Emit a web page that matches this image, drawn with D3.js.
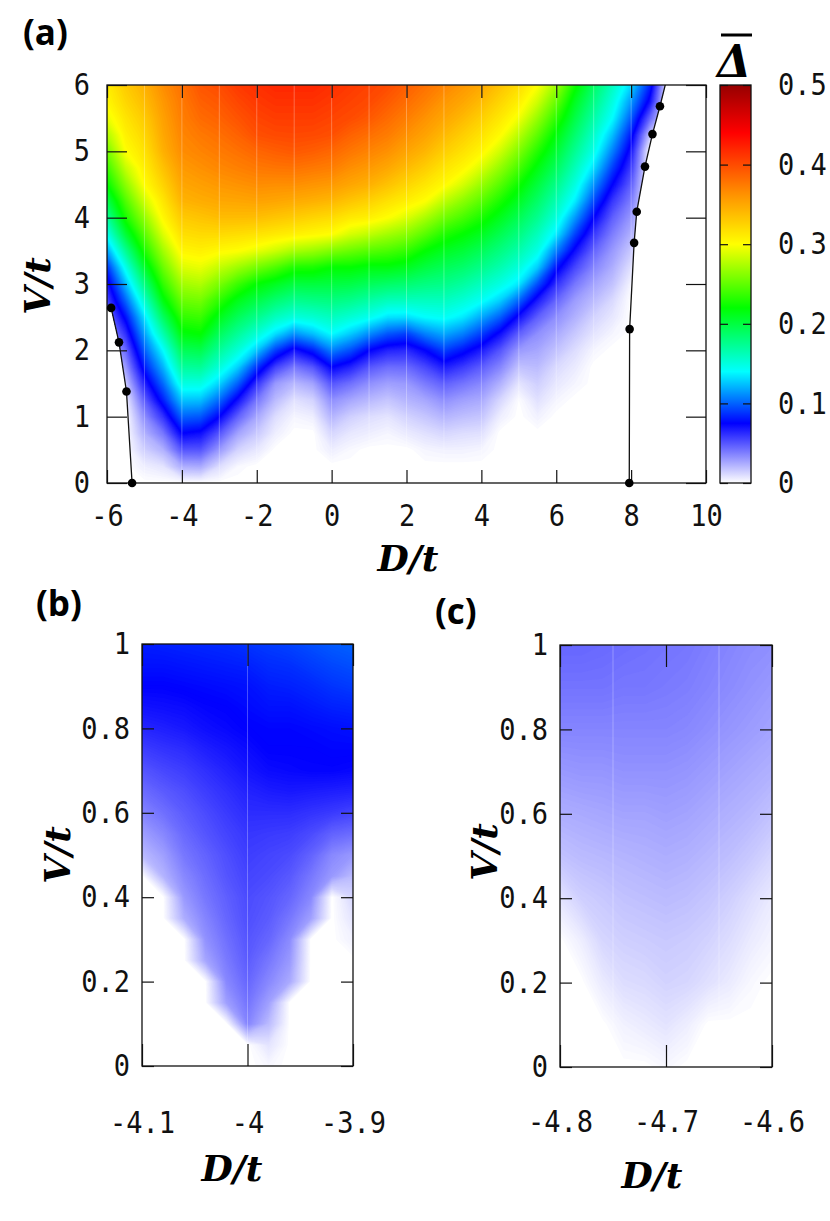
<!DOCTYPE html>
<html><head><meta charset="utf-8">
<script src="https://cdn.jsdelivr.net/npm/d3@7"></script>
<style>body{margin:0;background:#fff} svg{display:block}</style>
</head><body>
<svg id="fig" width="830" height="1221"></svg>
<script>
// ---------------- DATA ----------------
// Panel (a): grid of D/t (columns) and V/t (rows), mean gap values
const aD = [-6,-5.5,-5,-4.5,-4,-3.5,-3,-2.5,-2,-1.5,-1,-0.5,0,0.5,1,1.5,2,2.5,3,3.5,4,4.5,5,5.5,6,6.5,7,7.5,8,8.5,9,9.5,10];
const aV = [0,0.25,0.5,0.75,1,1.25,1.5,1.75,2,2.25,2.5,2.75,3,3.25,3.5,3.75,4,4.25,4.5,4.75,5,5.25,5.5,5.75,6];
// each inner array: one D column, values for V = 0 ... 6
const aDelta = [
 [0,0,0,0,0,0,0,0.005,0.015,0.027,0.04,0.053,0.067,0.087,0.116,0.145,0.17,0.195,0.22,0.238,0.256,0.275,0.293,0.304,0.31],
 [0,0,0,0,0,0.005,0.016,0.03,0.044,0.061,0.079,0.101,0.123,0.146,0.174,0.203,0.227,0.245,0.264,0.282,0.3,0.308,0.315,0.323,0.33],
 [0,0.005,0.014,0.023,0.033,0.047,0.064,0.082,0.099,0.116,0.133,0.155,0.18,0.205,0.228,0.247,0.266,0.285,0.301,0.309,0.316,0.323,0.33,0.338,0.345],
 [0,0.008,0.023,0.04,0.06,0.083,0.102,0.121,0.14,0.165,0.19,0.215,0.235,0.253,0.271,0.289,0.304,0.314,0.325,0.335,0.345,0.35,0.354,0.359,0.365],
 [0,0.024,0.05,0.075,0.1,0.125,0.149,0.171,0.193,0.216,0.235,0.253,0.271,0.289,0.305,0.318,0.33,0.343,0.351,0.358,0.365,0.369,0.373,0.376,0.38],
 [0,0.025,0.05,0.071,0.097,0.124,0.149,0.173,0.196,0.22,0.238,0.256,0.275,0.293,0.308,0.321,0.334,0.347,0.355,0.363,0.37,0.376,0.383,0.389,0.395],
 [0,0.01,0.03,0.05,0.075,0.102,0.129,0.152,0.172,0.192,0.212,0.234,0.258,0.281,0.303,0.321,0.338,0.35,0.359,0.368,0.375,0.381,0.388,0.394,0.4],
 [0,0.002,0.013,0.027,0.046,0.07,0.099,0.128,0.152,0.172,0.192,0.212,0.238,0.269,0.3,0.319,0.338,0.351,0.362,0.372,0.38,0.388,0.396,0.403,0.41],
 [0,0,0.007,0.016,0.026,0.04,0.06,0.089,0.126,0.153,0.176,0.198,0.22,0.256,0.293,0.316,0.337,0.353,0.365,0.376,0.386,0.398,0.404,0.41,0.415],
 [0,0,0,0.005,0.01,0.02,0.03,0.056,0.091,0.132,0.16,0.185,0.21,0.244,0.284,0.312,0.333,0.351,0.364,0.378,0.39,0.401,0.408,0.414,0.42],
 [0,0,0,0,0.003,0.009,0.021,0.04,0.069,0.112,0.15,0.175,0.2,0.229,0.273,0.308,0.329,0.348,0.364,0.379,0.393,0.402,0.408,0.414,0.42],
 [0,0,0,0,0.005,0.013,0.027,0.05,0.083,0.124,0.154,0.178,0.201,0.228,0.268,0.304,0.324,0.345,0.361,0.376,0.39,0.401,0.408,0.414,0.42],
 [0,0,0.005,0.012,0.022,0.033,0.05,0.075,0.108,0.14,0.16,0.18,0.2,0.22,0.26,0.3,0.32,0.341,0.358,0.373,0.385,0.398,0.404,0.41,0.415],
 [0,0,0.002,0.007,0.014,0.026,0.042,0.065,0.095,0.127,0.153,0.176,0.198,0.22,0.253,0.287,0.312,0.333,0.351,0.364,0.377,0.388,0.4,0.405,0.41],
 [0,0,0,0.005,0.01,0.021,0.033,0.05,0.075,0.111,0.145,0.168,0.192,0.215,0.247,0.28,0.308,0.326,0.345,0.358,0.37,0.381,0.393,0.401,0.405],
 [0,0,0,0.003,0.008,0.017,0.028,0.043,0.065,0.097,0.133,0.161,0.188,0.215,0.243,0.271,0.3,0.317,0.335,0.35,0.363,0.374,0.383,0.392,0.4],
 [0,0,0,0.006,0.013,0.022,0.03,0.044,0.063,0.091,0.132,0.16,0.185,0.21,0.236,0.263,0.289,0.309,0.324,0.339,0.352,0.363,0.373,0.382,0.39],
 [0,0,0.003,0.009,0.017,0.026,0.039,0.054,0.075,0.108,0.14,0.16,0.18,0.2,0.22,0.247,0.273,0.3,0.314,0.328,0.342,0.353,0.362,0.372,0.38],
 [0,0,0.004,0.012,0.022,0.033,0.047,0.067,0.091,0.118,0.143,0.16,0.177,0.193,0.21,0.23,0.255,0.28,0.303,0.315,0.328,0.34,0.351,0.36,0.37],
 [0,0,0.004,0.01,0.019,0.028,0.041,0.058,0.08,0.108,0.135,0.153,0.17,0.187,0.203,0.22,0.242,0.264,0.287,0.305,0.317,0.328,0.34,0.351,0.36],
 [0,0,0.003,0.009,0.017,0.025,0.035,0.048,0.067,0.091,0.118,0.143,0.16,0.177,0.193,0.21,0.228,0.248,0.268,0.288,0.305,0.316,0.327,0.339,0.35],
 [0,0,0,0,0.005,0.012,0.023,0.036,0.05,0.071,0.099,0.128,0.149,0.165,0.18,0.195,0.211,0.228,0.247,0.266,0.285,0.302,0.313,0.324,0.335],
 [0,0,0,0,0,0.001,0.008,0.018,0.03,0.047,0.07,0.101,0.134,0.151,0.166,0.18,0.194,0.209,0.224,0.242,0.26,0.278,0.296,0.309,0.32],
 [0,0,0,0,0.004,0.009,0.014,0.02,0.026,0.033,0.047,0.067,0.095,0.127,0.148,0.161,0.175,0.188,0.201,0.215,0.231,0.249,0.267,0.285,0.3],
 [0,0,0,0,0,0.003,0.007,0.011,0.018,0.025,0.033,0.045,0.061,0.08,0.108,0.135,0.151,0.164,0.177,0.191,0.204,0.217,0.234,0.252,0.27],
 [0,0,0,0,0,0,0.003,0.006,0.01,0.016,0.023,0.029,0.04,0.054,0.071,0.092,0.114,0.136,0.15,0.162,0.174,0.186,0.198,0.21,0.225],
 [0,0,0,0,0,0,0,0,0.003,0.008,0.013,0.02,0.027,0.036,0.046,0.059,0.075,0.094,0.113,0.132,0.147,0.157,0.168,0.179,0.19],
 [0,0,0,0,0,0,0,0,0,0.003,0.007,0.011,0.018,0.024,0.03,0.038,0.047,0.059,0.075,0.091,0.108,0.124,0.14,0.15,0.16],
 [0,0,0,0,0,0,0,0,0,0,0,0,0.003,0.009,0.016,0.023,0.03,0.038,0.047,0.057,0.068,0.081,0.098,0.114,0.13],
 [0,0,0,0,0,0,0,0,0,0,0,0,0,0,0,0,0,0,0,0,0,0.018,0.045,0.07,0.085],
 [0,0,0,0,0,0,0,0,0,0,0,0,0,0,0,0,0,0,0,0,0,0,0,0,0],
 [0,0,0,0,0,0,0,0,0,0,0,0,0,0,0,0,0,0,0,0,0,0,0,0,0],
 [0,0,0,0,0,0,0,0,0,0,0,0,0,0,0,0,0,0,0,0,0,0,0,0,0]
];
// phase boundaries (D/t, V/t)
const aLeftBoundary  = [[-5.33,0],[-5.48,1.38],[-5.68,2.12],[-5.89,2.64]];
const aRightBoundary = [[7.95,0],[7.96,2.32],[8.08,3.62],[8.15,4.09],[8.37,4.77],[8.57,5.26],[8.77,5.68],[9.0,6.2]];
const aXTicks = [-6,-4,-2,0,2,4,6,8,10];
const aXTickLabels = ["-6","-4","-2","0","2","4","6","8","10"];
const aYTicks = [0,1,2,3,4,5,6];
const aYTickLabels = ["0","1","2","3","4","5","6"];
const aSeams = [-5,-4,-3,-2,-1,0,1,2,3,4,5,6,7,8,9];

// Panel (b)
const bD = [-4.1,-4.08,-4.06,-4.04,-4.02,-4.0,-3.98,-3.96,-3.94,-3.92,-3.9];
const bV = [0,0.05,0.1,0.15,0.2,0.25,0.3,0.35,0.4,0.45,0.5,0.55,0.6,0.65,0.7,0.75,0.8,0.85,0.9,0.95,1.0];
const bDelta = [
 [0,0,0,0,0,0,0,0,0,0,0.02,0.028,0.036,0.043,0.05,0.057,0.064,0.07,0.075,0.079,0.082],
 [0,0,0,0,0,0,0,0,0,0.022,0.028,0.035,0.042,0.048,0.054,0.06,0.066,0.071,0.075,0.079,0.083],
 [0,0,0,0,0,0,0,0.024,0.03,0.035,0.04,0.044,0.048,0.052,0.057,0.062,0.068,0.072,0.076,0.08,0.084],
 [0,0,0,0,0,0.026,0.032,0.036,0.04,0.043,0.046,0.05,0.053,0.057,0.061,0.066,0.071,0.074,0.077,0.081,0.085],
 [0,0,0,0.028,0.035,0.039,0.042,0.045,0.047,0.05,0.052,0.055,0.058,0.061,0.065,0.069,0.073,0.075,0.078,0.082,0.086],
 [0,0,0.036,0.041,0.045,0.048,0.05,0.052,0.053,0.055,0.057,0.059,0.062,0.065,0.069,0.072,0.075,0.077,0.079,0.083,0.088],
 [0.002,0.008,0.02,0.028,0.035,0.04,0.045,0.048,0.05,0.053,0.055,0.058,0.062,0.067,0.072,0.075,0.076,0.079,0.082,0.086,0.09],
 [0,0,0,0,0.025,0.03,0.034,0.04,0.045,0.049,0.053,0.057,0.062,0.068,0.073,0.075,0.076,0.079,0.083,0.087,0.092],
 [0,0,0,0,0,0,0,0.028,0.035,0.04,0.046,0.053,0.06,0.067,0.074,0.075,0.077,0.081,0.085,0.09,0.095],
 [0,0,0,0,0,0,0,0,0,0.03,0.035,0.046,0.058,0.066,0.074,0.076,0.078,0.083,0.088,0.093,0.098],
 [0,0,0,0,0,0,0.004,0.008,0.012,0.02,0.03,0.043,0.055,0.065,0.073,0.076,0.079,0.084,0.09,0.095,0.1]
];
const bXTicks = [-4.1,-4.0,-3.9];
const bXTickLabels = ["-4.1","-4","-3.9"];
const bYTicks = [0,0.2,0.4,0.6,0.8,1];
const bYTickLabels = ["0","0.2","0.4","0.6","0.8","1"];
const bSeams = [-4.0];

// Panel (c)
const cD = [-4.8,-4.78,-4.76,-4.74,-4.72,-4.7,-4.68,-4.66,-4.64,-4.62,-4.6];
const cV = [0,0.1,0.2,0.3,0.4,0.5,0.6,0.7,0.8,0.9,1.0];
const cDelta = [
 [0,0,0,0,0.008,0.018,0.024,0.03,0.036,0.041,0.045],
 [0,0,0,0.005,0.014,0.02,0.025,0.031,0.036,0.041,0.045],
 [0,0,0.006,0.012,0.016,0.021,0.026,0.031,0.036,0.041,0.044],
 [0,0.004,0.01,0.014,0.018,0.022,0.027,0.032,0.036,0.04,0.043],
 [0,0.006,0.011,0.015,0.019,0.023,0.027,0.032,0.036,0.04,0.042],
 [0.002,0.008,0.013,0.016,0.02,0.024,0.028,0.032,0.036,0.039,0.041],
 [0,0.005,0.012,0.015,0.019,0.023,0.027,0.031,0.035,0.038,0.04],
 [0,0,0.009,0.013,0.017,0.021,0.025,0.029,0.033,0.036,0.038],
 [0,0,0.006,0.01,0.014,0.019,0.023,0.027,0.031,0.034,0.036],
 [0,0,0.002,0.006,0.01,0.016,0.021,0.025,0.029,0.032,0.034],
 [0,0,0,0.003,0.006,0.012,0.018,0.023,0.027,0.03,0.033]
];
const cXTicks = [-4.8,-4.7,-4.6];
const cXTickLabels = ["-4.8","-4.7","-4.6"];
const cYTicks = [0,0.2,0.4,0.6,0.8,1];
const cYTickLabels = ["0","0.2","0.4","0.6","0.8","1"];
const cSeams = [-4.75,-4.65];

// colour bar
const cbStops  = [0,0.075,0.14,0.22,0.30,0.36,0.44,0.5];
const cbColors = ["#ffffff","#0000ff","#00ffff","#00ff00","#ffff00","#ff9600","#ff0000","#960000"];
const cbTicks = [0,0.1,0.2,0.3,0.4,0.5];
const cbTickLabels = ["0","0.1","0.2","0.3","0.4","0.5"];

// ---------------- DRAWING ----------------
const svg = d3.select("#fig");
const defs = svg.append("defs");
const color = d3.scaleLinear().domain(cbStops).range(cbColors).clamp(true);
const MONO = "DejaVu Sans Mono";
const SERIF = "DejaVu Serif";
const SX = 0.9; // horizontal squeeze of the monospace tick labels

function addClipRect(id, x0, y0, x1, y1) {
  defs.append("clipPath").attr("id", id).append("rect")
    .attr("x", x0).attr("y", y0).attr("width", x1 - x0).attr("height", y1 - y0);
}

function heat(g, D, V, cols, xs, ys, thr) {
  const nx = D.length, ny = V.length;
  const vals = new Array(nx * ny);
  for (let i = 0; i < nx; i++) for (let j = 0; j < ny; j++) vals[j * nx + i] = cols[i][j];
  const dx = D[1] - D[0], dy = V[1] - V[0];
  const tr = d3.geoTransform({point(x, y) {
    this.stream.point(xs(D[0] + (x - 0.5) * dx), ys(V[0] + (y - 0.5) * dy));
  }});
  const path = d3.geoPath(tr);
  const cs = d3.contours().size([nx, ny]).thresholds(thr)(vals);
  g.selectAll("path.band").data(cs).join("path").attr("class", "band")
    .attr("d", path).attr("fill", (d, i) => color(i < thr.length - 1 ? (thr[i] + thr[i + 1]) / 2 : thr[i]));
}

function seams(g, list, xs, ys) {
  g.selectAll("line.seam").data(list).join("line").attr("class", "seam")
    .attr("x1", d => xs(d)).attr("x2", d => xs(d))
    .attr("y1", ys.range()[0]).attr("y2", ys.range()[1])
    .attr("stroke", "#ffffff").attr("stroke-opacity", 0.28).attr("stroke-width", 1);
}

const styleAxis = sel => {
  sel.select(".domain").remove();
  sel.attr("color", "#111");
  sel.selectAll("line").attr("stroke-width", 1.2);
  sel.selectAll("text").attr("font-family", MONO).attr("font-size", 30).attr("fill", "#111")
    .attr("transform", `scale(${SX},1)`);
};

function axes(g, xs, ys, xt, xl, yt, yl, xTick, yTick, xPad, yPad) {
  const [x0, x1] = xs.range(), [y0, y1] = ys.range(); // y0 bottom, y1 top
  g.append("g").attr("transform", `translate(0,${y0})`)
    .call(d3.axisBottom(xs).tickValues(xt).tickFormat((d, i) => xl[i]).tickSize(-xTick).tickSizeOuter(0).tickPadding(xPad)).call(styleAxis);
  g.append("g").attr("transform", `translate(0,${y1})`)
    .call(d3.axisTop(xs).tickValues(xt).tickFormat("").tickSize(-xTick).tickSizeOuter(0)).call(styleAxis);
  g.append("g").attr("transform", `translate(${x0},0)`)
    .call(d3.axisLeft(ys).tickValues(yt).tickFormat((d, i) => yl[i]).tickSize(-yTick).tickSizeOuter(0).tickPadding(yPad / SX)).call(styleAxis);
  g.append("g").attr("transform", `translate(${x1},0)`)
    .call(d3.axisRight(ys).tickValues(yt).tickFormat("").tickSize(-yTick).tickSizeOuter(0)).call(styleAxis);
  g.append("rect").attr("x", x0).attr("y", y1).attr("width", x1 - x0).attr("height", y0 - y1)
    .attr("fill", "none").attr("stroke", "#111").attr("stroke-width", 1.3);
}

function titleX(txt, x, y) {
  svg.append("text").attr("x", x).attr("y", y).attr("text-anchor", "middle")
    .attr("font-family", SERIF).attr("font-weight", "bold").attr("font-style", "italic")
    .attr("font-size", 36).text(txt);
}
function titleY(txt, x, y) {
  svg.append("text").attr("transform", `translate(${x},${y}) rotate(-90)`).attr("text-anchor", "middle")
    .attr("font-family", SERIF).attr("font-weight", "bold").attr("font-style", "italic")
    .attr("font-size", 36).text(txt);
}
function panelLabel(txt, x, y, size) {
  svg.append("text").attr("x", x).attr("y", y).attr("font-family", "Open Sans").attr("font-weight", "bold")
    .attr("font-size", size).text(txt);
}

// thresholds: fine for low values, coarser above
const thrA = d3.range(0.001, 0.14, 0.001).concat(d3.range(0.14, 0.5, 0.0025));
const thrBC = d3.range(0.0008, 0.12, 0.0008);

// ---- Panel (a)
const xA = d3.scaleLinear().domain([-6, 10]).range([107, 706]);
const yA = d3.scaleLinear().domain([0, 6]).range([483, 85]);
addClipRect("clipA", 107, 85, 706, 483);
{
  const dMin = xA.domain()[0], vMax = yA.domain()[1];
  const leftTop = aLeftBoundary[aLeftBoundary.length - 1];
  const rightTop = aRightBoundary[aRightBoundary.length - 1];
  const ring = [...aLeftBoundary, [dMin - 1, leftTop[1]], [dMin - 1, vMax + 1], [rightTop[0], vMax + 1],
    ...aRightBoundary.slice().reverse()];
  defs.append("clipPath").attr("id", "clipAreg").append("path")
    .attr("d", d3.line().x(d => xA(d[0])).y(d => yA(d[1]))(ring) + "Z");
}
const gA = svg.append("g").attr("clip-path", "url(#clipA)");
const gAh = gA.append("g").attr("clip-path", "url(#clipAreg)");
heat(gAh, aD, aV, aDelta, xA, yA, thrA);
seams(gAh, aSeams, xA, yA);
const bLine = d3.line().x(d => xA(d[0])).y(d => yA(d[1]));
[aLeftBoundary, aRightBoundary].forEach(pts => {
  gA.append("path").attr("d", bLine(pts)).attr("fill", "none").attr("stroke", "#111").attr("stroke-width", 1.3);
});
axes(svg.append("g"), xA, yA, aXTicks, aXTickLabels, aYTicks, aYTickLabels, 13, 20, 22, 17);
const inA = p => p[0] >= xA.domain()[0] && p[0] <= xA.domain()[1] && p[1] >= yA.domain()[0] && p[1] <= yA.domain()[1];
svg.append("g").selectAll("circle").data([...aLeftBoundary, ...aRightBoundary].filter(inA)).join("circle")
  .attr("cx", d => xA(d[0])).attr("cy", d => yA(d[1])).attr("r", 4.3).attr("fill", "#000");

// colour bar
{
  const cbX0 = 720, cbX1 = 751;
  const yCB = d3.scaleLinear().domain([0, 0.5]).range([483, 85]);
  const grad = defs.append("linearGradient").attr("id", "cbGrad").attr("x1", 0).attr("y1", 1).attr("x2", 0).attr("y2", 0);
  d3.range(0, 101).forEach(i => grad.append("stop").attr("offset", i / 100).attr("stop-color", color(0.5 * i / 100)));
  svg.append("rect").attr("x", cbX0).attr("y", 85).attr("width", cbX1 - cbX0).attr("height", 398).attr("fill", "url(#cbGrad)");
  svg.append("g").attr("transform", `translate(${cbX1},0)`)
    .call(d3.axisRight(yCB).tickValues(cbTicks).tickFormat((d, i) => cbTickLabels[i]).tickSize(-8).tickSizeOuter(0).tickPadding(27 / SX)).call(styleAxis);
  svg.append("g").attr("transform", `translate(${cbX0},0)`)
    .call(d3.axisLeft(yCB).tickValues(cbTicks).tickFormat("").tickSize(-8).tickSizeOuter(0)).call(styleAxis);
  svg.append("rect").attr("x", cbX0).attr("y", 85).attr("width", cbX1 - cbX0).attr("height", 398)
    .attr("fill", "none").attr("stroke", "#111").attr("stroke-width", 1.3);
  svg.append("text").attr("x", 734).attr("y", 77).attr("text-anchor", "middle")
    .attr("font-family", SERIF).attr("font-weight", "bold").attr("font-style", "italic").attr("font-size", 44).text("Δ");
  svg.append("line").attr("x1", 721).attr("x2", 752).attr("y1", 35).attr("y2", 35).attr("stroke", "#000").attr("stroke-width", 3);
}
titleY("V/t", 50, 286);
titleX("D/t", 408, 571);
panelLabel("(a)", 23, 45, 35);

// ---- Panel (b)
const xB = d3.scaleLinear().domain([-4.1, -3.9]).range([142, 353]);
const yB = d3.scaleLinear().domain([0, 1]).range([1066, 644]);
addClipRect("clipB", 142, 644, 353, 1066);
const gB = svg.append("g").attr("clip-path", "url(#clipB)");
heat(gB, bD, bV, bDelta, xB, yB, thrBC);
seams(gB, bSeams, xB, yB);
axes(svg.append("g"), xB, yB, bXTicks, bXTickLabels, bYTicks, bYTickLabels, 22, 12, 46, 12);
titleY("V/t", 70, 855);
titleX("D/t", 232, 1181);
panelLabel("(b)", 36, 616, 35);

// ---- Panel (c)
const xC = d3.scaleLinear().domain([-4.8, -4.6]).range([560, 772]);
const yC = d3.scaleLinear().domain([0, 1]).range([1067, 645]);
addClipRect("clipC", 560, 645, 772, 1067);
const gC = svg.append("g").attr("clip-path", "url(#clipC)");
heat(gC, cD, cV, cDelta, xC, yC, thrBC);
seams(gC, cSeams, xC, yC);
axes(svg.append("g"), xC, yC, cXTicks, cXTickLabels, cYTicks, cYTickLabels, 22, 12, 44, 12);
titleY("V/t", 497, 852);
titleX("D/t", 652, 1188);
panelLabel("(c)", 435, 624, 35);
</script>
</body></html>
